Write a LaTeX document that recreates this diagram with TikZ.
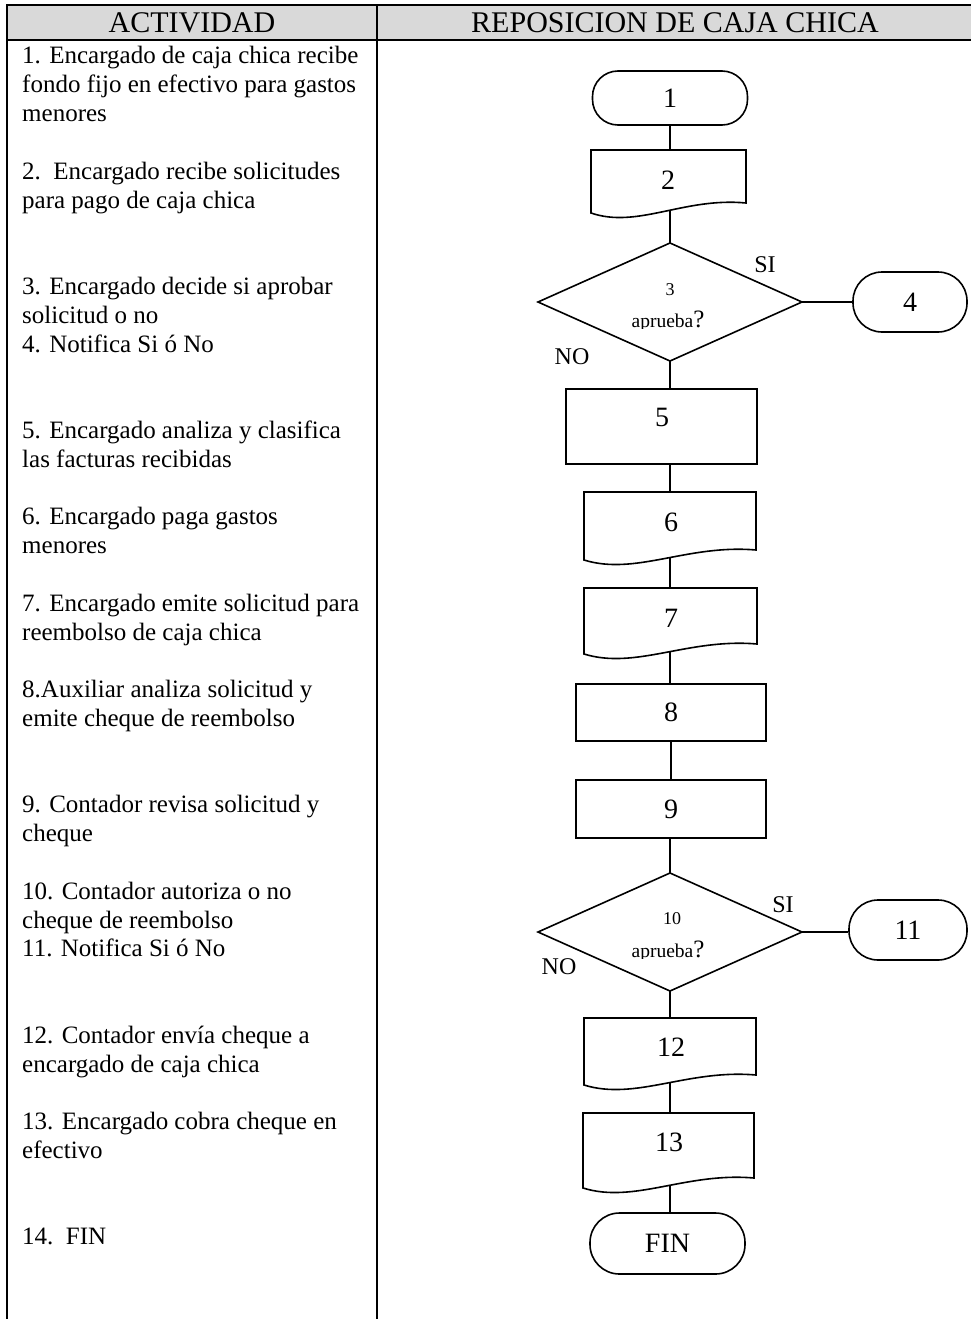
\documentclass[tikz,border=0pt]{standalone}
\usepackage{fontspec}
\setmainfont{Liberation Serif}
\usetikzlibrary{calc}

% document (wavy-bottom) symbol: name, left, right, top, lower-left bottom, label x, label y, label
\newcommand\docsheet[8]{%
  \draw[shapeline] (#2,#4) -- (#3,#4) -- ({#3},{#5-10})
    .. controls ({#2+0.6*(#3-#2)},{#5-16}) and ({#2+0.3*(#3-#2)},{#5+16}) .. (#2,#5) -- cycle;
  \coordinate (#1-t) at (670,#4);
  \coordinate (#1-b) at (670,{#5-2});
  \node[lbl] (#1) at (#6,#7) {#8};
}
% decision symbol: name, centre y
\newcommand\decision[2]{%
  \coordinate (#1-t) at (670,{#2-59});
  \coordinate (#1-r) at (802,#2);
  \coordinate (#1-b) at (670,{#2+59});
  \coordinate (#1-l) at (538,#2);
  \draw[shapeline] (#1-t) -- (#1-r) -- (#1-b) -- (#1-l) -- cycle;
}
% one line of the activity column
\newcommand\actline[2]{\node[act] (act#1) at (22,{64+28.8*#1}) {#2};}

\begin{document}
\begin{tikzpicture}[x=1pt,y=-1pt,
  shapeline/.style={line width=1.6pt, line join=miter},
  conn/.style={line width=1.5pt},
  grid/.style={line width=2.2pt},
  term/.style={draw, line width=1.6pt, inner sep=0pt, font=\fontsize{28}{30}\selectfont},
  procbox/.style={draw, line width=1.6pt, inner sep=0pt, font=\fontsize{28}{30}\selectfont},
  lbl/.style={inner sep=0pt, font=\fontsize{28}{30}\selectfont},
  act/.style={anchor=base west, inner sep=0pt, font=\fontsize{25}{28.8}\selectfont},
  yesno/.style={inner sep=0pt, font=\fontsize{24}{26}\selectfont},
  hdrtxt/.style={inner sep=0pt, font=\fontsize{30}{32}\selectfont},
]
\useasboundingbox (0,0) rectangle (971,1319);

% table frame and header row
\fill[black!15] (7,5) rectangle (971,40);
\draw[grid] (971,5) -- (7,5) -- (7,1319);
\draw[grid] (7,40) -- (971,40);
\draw[grid] (377,5) -- (377,1319);
\node[hdrtxt] (h1) at (192,23) {ACTIVIDAD};
\node[hdrtxt] (h2) at (675,23) {REPOSICION DE CAJA CHICA};

% activity descriptions
\actline{0}{1. Encargado de caja chica recibe}
\actline{1}{fondo fijo en efectivo para gastos}
\actline{2}{menores}
\actline{4}{2.\ \ Encargado recibe solicitudes}
\actline{5}{para pago de caja chica}
\actline{8}{3. Encargado decide si aprobar}
\actline{9}{solicitud o no}
\actline{10}{4. Notifica Si ó No}
\actline{13}{5. Encargado analiza y clasifica}
\actline{14}{las facturas recibidas}
\actline{16}{6. Encargado paga gastos}
\actline{17}{menores}
\actline{19}{7. Encargado emite solicitud para}
\actline{20}{reembolso de caja chica}
\actline{22}{8.Auxiliar analiza solicitud y}
\actline{23}{emite cheque de reembolso}
\actline{26}{9. Contador revisa solicitud y}
\actline{27}{cheque}
\actline{29}{10. Contador autoriza o no}
\actline{30}{cheque de reembolso}
\actline{31}{11. Notifica Si ó No}
\actline{34}{12. Contador envía cheque a}
\actline{35}{encargado de caja chica}
\actline{37}{13. Encargado cobra cheque en}
\actline{38}{efectivo}
\actline{41}{14.\ \ FIN}

% flowchart symbols
\node[term, rounded corners=25.5pt, minimum width=155pt, minimum height=54pt] (t1) at (670,98) {1};
\docsheet{d2}{591}{746}{150}{213}{668}{180}{2}
\decision{q3}{302}
\node[inner sep=0pt, font=\fontsize{18}{20}\selectfont] (q3n) at (670,290) {3};
\begin{scope}
  \clip (600,300) rectangle (740,328.5);
  \node[anchor=base, inner sep=0pt] (q3q) at (668,327)
    {{\fontsize{19.5}{20}\selectfont aprueba}{\fontsize{25}{26}\selectfont ?}};
\end{scope}
\node[yesno] (q3si) at (765,265) {SI};
\node[yesno] (q3no) at (572,357) {NO};
\node[term, rounded corners=29pt, minimum width=114pt, minimum height=60pt] (t4) at (910,302) {4};

\node[procbox, minimum width=191pt, minimum height=75pt] (b5) at (661.5,426.5) {};
\node[lbl] (b5l) at (662,417) {5};
\docsheet{d6}{584}{756}{492}{560}{671}{522}{6}
\docsheet{d7}{584}{757}{588}{654}{671}{618}{7}
\node[procbox, minimum width=190pt, minimum height=57pt] (b8) at (671,712.5) {8};
\node[procbox, minimum width=190pt, minimum height=58pt] (b9) at (671,809) {9};

\decision{q10}{932}
\node[inner sep=0pt, font=\fontsize{18}{20}\selectfont] (q10n) at (672,919) {10};
\begin{scope}
  \clip (600,930) rectangle (740,958.5);
  \node[anchor=base, inner sep=0pt] (q10q) at (668,957)
    {{\fontsize{19.5}{20}\selectfont aprueba}{\fontsize{25}{26}\selectfont ?}};
\end{scope}
\node[yesno] (q10si) at (783,905) {SI};
\node[yesno] (q10no) at (559,967) {NO};
\node[term, rounded corners=29pt, minimum width=118pt, minimum height=60pt] (t11) at (908,930) {11};

\docsheet{d12}{584}{756}{1018}{1085}{671}{1047}{12}
\docsheet{d13}{583}{754}{1113}{1188}{669}{1142}{13}
\node[term, rounded corners=29.5pt, minimum width=155pt, minimum height=61pt] (tfin) at (667.5,1243.5) {FIN};

% connectors
\draw[conn] (t1.south) -- (d2-t);
\draw[conn] (d2-b) -- (q3-t);
\draw[conn] (q3-b) -- (q3-b |- b5.north);
\draw[conn] (b5.south -| d6-t) -- (d6-t);
\draw[conn] (d6-b) -- (d7-t);
\draw[conn] (d7-b) -- (d7-b |- b8.north);
\draw[conn] (b8.south) -- (b9.north);
\draw[conn] (b9.south -| q10-t) -- (q10-t);
\draw[conn] (q10-b) -- (d12-t);
\draw[conn] (d12-b) -- (d13-t);
\draw[conn] (d13-b) -- (d13-b |- tfin.north);
\draw[conn] (q3-r) -- (q3-r -| t4.west);
\draw[conn] (q10-r) -- (q10-r -| t11.west);
\end{tikzpicture}
\end{document}
